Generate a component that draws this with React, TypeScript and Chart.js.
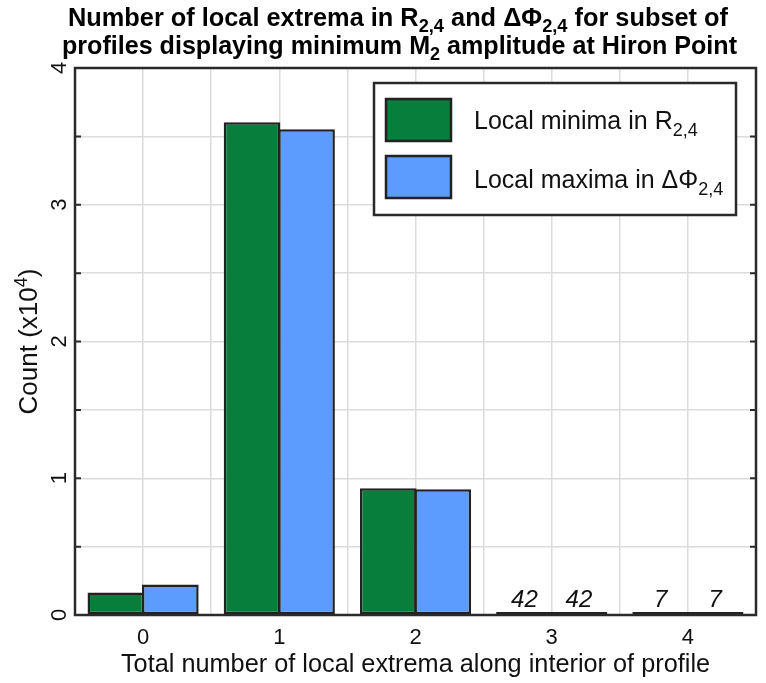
import React, { useEffect, useRef } from 'react';
import { Chart, registerables } from 'chart.js';

Chart.register(...registerables);

// ---- data ----
const categories = ['0', '1', '2', '3', '4'];
const minimaR = [0.165, 3.603, 0.927, 0.0042, 0.0007]; // x10^4
const maximaPhi = [0.223, 3.552, 0.92, 0.0042, 0.0007]; // x10^4
const minimaCountLabels = ['', '', '', '42', '7'];
const maximaCountLabels = ['', '', '', '42', '7'];
const yTickValues = [0, 1, 2, 3, 4];
const xAxisTitle = 'Total number of local extrema along interior of profile';

type Seg = { t: string; sub?: boolean; sup?: boolean };
const yAxisTitle: Seg[] = [{ t: 'Count (x10' }, { t: '4', sup: true }, { t: ')' }];
const titleLine1: Seg[] = [
  { t: 'Number of local extrema in R' },
  { t: '2,4', sub: true },
  { t: ' and \u0394\u03A6' },
  { t: '2,4', sub: true },
  { t: ' for subset of' },
];
const titleLine2: Seg[] = [
  { t: 'profiles displaying minimum M' },
  { t: '2', sub: true },
  { t: ' amplitude at Hiron Point' },
];
const legendMinima: Seg[] = [{ t: 'Local minima in R' }, { t: '2,4', sub: true }];
const legendMaxima: Seg[] = [{ t: 'Local maxima in \u0394\u03A6' }, { t: '2,4', sub: true }];

const GREEN = '#077E3C';
const BLUE = '#5C9BFF';
const EDGE = '#222222';
const FONT = '"Liberation Sans", Arial, Helvetica, sans-serif';

function segWidth(ctx: CanvasRenderingContext2D, segs: Seg[], font: string, smallFont: string) {
  let w = 0;
  for (const s of segs) {
    ctx.font = s.sub || s.sup ? smallFont : font;
    w += ctx.measureText(s.t).width;
  }
  return w;
}

function drawSegs(
  ctx: CanvasRenderingContext2D,
  segs: Seg[],
  x: number,
  y: number,
  font: string,
  smallFont: string,
  subDrop: number,
  supRise: number,
  align: 'left' | 'center',
  targetWidth?: number
) {
  const w = segWidth(ctx, segs, font, smallFont);
  ctx.save();
  let sx = 1;
  if (targetWidth) sx = targetWidth / w;
  const start = align === 'center' ? x - (w * sx) / 2 : x;
  ctx.translate(start, y);
  ctx.scale(sx, 1);
  ctx.textAlign = 'left';
  ctx.textBaseline = 'alphabetic';
  let cx = 0;
  for (const s of segs) {
    ctx.font = s.sub || s.sup ? smallFont : font;
    ctx.fillText(s.t, cx, s.sub ? subDrop : s.sup ? -supRise : 0);
    cx += ctx.measureText(s.t).width;
  }
  ctx.restore();
}

const decorPlugin = {
  id: 'decor',
  afterDatasetsDraw(chart: any) {
    const ctx: CanvasRenderingContext2D = chart.ctx;
    const area = chart.chartArea;
    const yScale = chart.scales.y;

    // count annotations
    ctx.save();
    ctx.fillStyle = '#111';
    ctx.font = `italic 24px ${FONT}`;
    ctx.textAlign = 'center';
    ctx.textBaseline = 'alphabetic';
    const labelSets = [minimaCountLabels, maximaCountLabels];
    chart.data.datasets.forEach((_: any, di: number) => {
      const meta = chart.getDatasetMeta(di);
      meta.data.forEach((el: any, i: number) => {
        const txt = labelSets[di][i];
        if (txt) ctx.fillText(txt, el.x, el.y - 5);
      });
    });
    ctx.restore();

    // frame
    ctx.save();
    ctx.strokeStyle = '#2a2a2a';
    ctx.lineWidth = 2.5;
    ctx.strokeRect(area.left, area.top, area.right - area.left, area.bottom - area.top);
    // inward y ticks (both sides)
    ctx.lineWidth = 2;
    for (let v = 0.5; v < 4; v += 0.5) {
      const py = yScale.getPixelForValue(v);
      ctx.beginPath();
      ctx.moveTo(area.left, py);
      ctx.lineTo(area.left + 6, py);
      ctx.moveTo(area.right, py);
      ctx.lineTo(area.right - 6, py);
      ctx.stroke();
    }
    ctx.restore();

    // y tick labels (rotated)
    ctx.save();
    ctx.fillStyle = '#111';
    ctx.font = `22px ${FONT}`;
    ctx.textAlign = 'center';
    ctx.textBaseline = 'middle';
    for (const v of yTickValues) {
      const py = yScale.getPixelForValue(v);
      ctx.save();
      ctx.translate(area.left - 15, py);
      ctx.rotate(-Math.PI / 2);
      ctx.fillText(String(v), 0, 0);
      ctx.restore();
    }
    ctx.restore();

    // y axis title (rotated, with superscript)
    ctx.save();
    ctx.fillStyle = '#111';
    ctx.translate(37, (area.top + area.bottom) / 2);
    ctx.rotate(-Math.PI / 2);
    drawSegs(ctx, yAxisTitle, 0, 0, `26px ${FONT}`, `18px ${FONT}`, 0, 10, 'center');
    ctx.restore();

    // title
    ctx.save();
    ctx.fillStyle = '#000';
    const tf = `bold 25px ${FONT}`;
    const tsf = `bold 18px ${FONT}`;
    drawSegs(ctx, titleLine1, 398, 26, tf, tsf, 6, 0, 'center', 660);
    drawSegs(ctx, titleLine2, 399.5, 54, tf, tsf, 6, 0, 'center', 675);
    ctx.restore();

    // legend
    ctx.save();
    const lx = 374, ly = 83, lw = 362, lh = 132;
    ctx.fillStyle = '#fff';
    ctx.fillRect(lx, ly, lw, lh);
    ctx.strokeStyle = '#2a2a2a';
    ctx.lineWidth = 2.5;
    ctx.strokeRect(lx, ly, lw, lh);
    const items = [
      { segs: legendMinima, color: GREEN, y: 99, base: 129 },
      { segs: legendMaxima, color: BLUE, y: 156, base: 188 },
    ];
    for (const it of items) {
      ctx.fillStyle = it.color;
      ctx.fillRect(386, it.y, 65, 42);
      ctx.strokeStyle = EDGE;
      ctx.lineWidth = 2.5;
      ctx.strokeRect(386, it.y, 65, 42);
      ctx.fillStyle = '#111';
      drawSegs(ctx, it.segs, 474, it.base, `25px ${FONT}`, `18px ${FONT}`, 7, 0, 'left');
    }
    ctx.restore();
  },
};

export default function App() {
  const ref = useRef<HTMLCanvasElement | null>(null);
  useEffect(() => {
    if (!ref.current) return;
    const chart = new Chart(ref.current, {
      type: 'bar',
      data: {
        datasets: [
          {
            label: 'Local minima in R2,4',
            data: minimaR.map((v, i) => ({ x: i, y: v })),
            backgroundColor: GREEN,
            borderColor: EDGE,
            borderWidth: 2.5,
            borderSkipped: false,
            minBarLength: 3,
          },
          {
            label: 'Local maxima in ΔΦ2,4',
            data: maximaPhi.map((v, i) => ({ x: i, y: v })),
            backgroundColor: BLUE,
            borderColor: EDGE,
            borderWidth: 2.5,
            borderSkipped: false,
            minBarLength: 3,
          },
        ],
      },
      options: {
        responsive: false,
        animation: false,
        layout: { padding: { top: 68, left: 0, right: 3, bottom: 0 } },
        // the ruler's minimum spacing is the half-step gridline tick spacing (half a category)
        datasets: { bar: { categoryPercentage: 1.6, barPercentage: 1.04 } },
        plugins: { legend: { display: false }, title: { display: false }, tooltip: { enabled: false } },
        scales: {
          x: {
            type: 'linear',
            min: -0.5,
            max: 4.5,
            offset: false,
            grid: { offset: false, color: '#dcdcdc', lineWidth: 1.5, drawTicks: false },
            border: { display: false },
            ticks: {
              stepSize: 0.5,
              autoSkip: false,
              maxRotation: 0,
              padding: 10,
              color: '#111',
              font: { size: 22, family: FONT },
              callback: (v: any) => (Number.isInteger(v) && v >= 0 && v < categories.length ? categories[v] : ''),
            },
            title: {
              display: true,
              text: xAxisTitle,
              color: '#111',
              font: { size: 25.3, family: FONT },
              padding: { top: 0, bottom: 3 },
            },
            afterFit: (s: any) => {
              s.height = 68;
            },
          },
          y: {
            min: 0,
            max: 4,
            grid: { color: '#dcdcdc', lineWidth: 1.5, drawTicks: false },
            border: { display: false },
            ticks: { stepSize: 0.5, display: false },
            title: { display: false },
            afterFit: (s: any) => {
              s.width = 75;
            },
          },
        },
      },
      plugins: [decorPlugin],
    } as any);
    return () => chart.destroy();
  }, []);
  return (
    <div style={{ position: 'absolute', left: 0, top: 0, width: 766, height: 683, background: '#fff' }}>
      <canvas ref={ref} width={766} height={683} />
    </div>
  );
}
